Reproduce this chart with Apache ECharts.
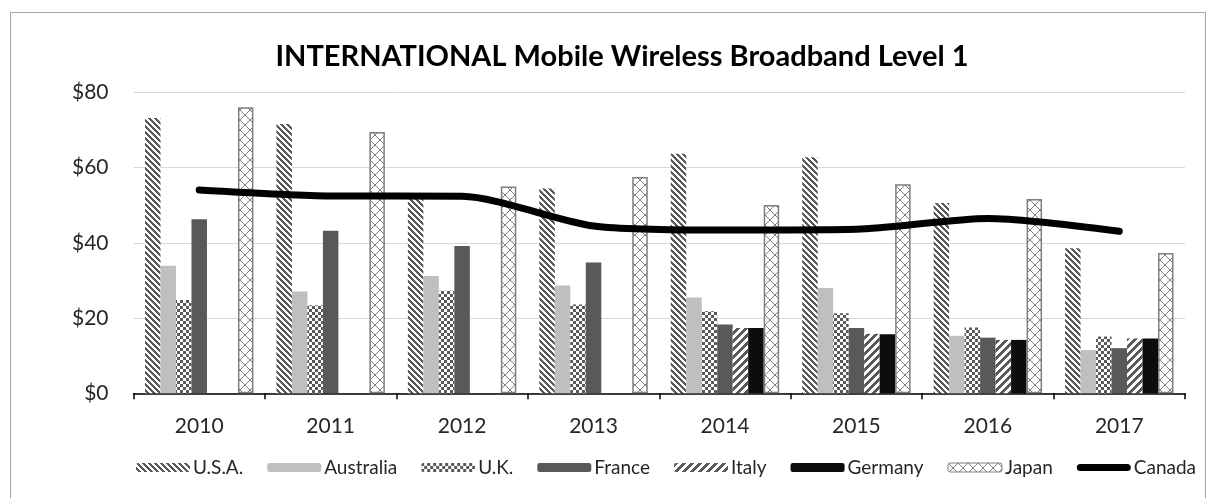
<!DOCTYPE html>
<html>
<head>
<meta charset="utf-8">
<script src="https://cdn.jsdelivr.net/npm/echarts@6/dist/echarts.min.js"></script>
<style>
  html, body { margin: 0; padding: 0; background: #ffffff; }
  #chart { width: 1210px; height: 498px; }
</style>
</head>
<body>
<div id="chart"></div>
<script>
// Monthly price (USD) of a Level 1 mobile wireless broadband plan, by country
const years = ['2010', '2011', '2012', '2013', '2014', '2015', '2016', '2017'];
const usa       = [73.2, 71.6, 52.0, 54.5, 63.7, 62.8, 50.6, 38.6];
const australia = [33.9, 27.1, 31.2, 28.7, 25.5, 28.0, 15.3, 11.5];
const uk        = [24.8, 23.4, 27.3, 23.6, 21.8, 21.3, 17.5, 15.1];
const france    = [46.3, 43.2, 39.2, 34.8, 18.3, 17.4, 14.8, 12.0];
const italy     = [null, null, null, null, 17.4, 15.8, 14.2, 14.6];
const germany   = [null, null, null, null, 17.4, 15.7, 14.2, 14.6];
const japan     = [76.1, 69.5, 55.0, 57.5, 50.1, 55.6, 51.7, 37.3];
const canada    = [54.1, 52.5, 52.4, 44.5, 43.4, 43.6, 46.5, 43.1];
const yTicks    = [0, 20, 40, 60, 80];

const FONT = 'Lato, "Open Sans", sans-serif';

// Build a repeating fill from a per-pixel rule
function pattern(size, fg, bg, isInk) {
  const c = document.createElement('canvas');
  c.width = size; c.height = size;
  const g = c.getContext('2d');
  g.fillStyle = bg; g.fillRect(0, 0, size, size);
  g.fillStyle = fg;
  for (let y = 0; y < size; y++) {
    for (let x = 0; x < size; x++) {
      if (isInk(x, y)) g.fillRect(x, y, 1, 1);
    }
  }
  return { image: c, repeat: 'repeat' };
}

const darkDownDiag = pattern(6, '#595959', '#ffffff', (x, y) => ((x - y + 12) % 6) < 3);
const wideUpDiag   = pattern(8, '#595959', '#ffffff', (x, y) => ((x + y) % 8) < 4);
const checker      = pattern(6, '#595959', '#ffffff', (x, y) => ((Math.floor(x / 3) + Math.floor(y / 3)) % 2) === 0);
const diagCross    = pattern(10, '#7f7f7f', '#ffffff', (x, y) => x === y || x === 9 - y);

function barSeries(name, data, fill, extra) {
  return Object.assign({
    name: name,
    type: 'bar',
    data: data,
    barGap: '0%',
    barCategoryGap: '17.5%',
    itemStyle: { color: fill },
    emphasis: { disabled: true }
  }, extra || {});
}

const chart = echarts.init(document.getElementById('chart'), null, { renderer: 'canvas' });

chart.setOption({
  backgroundColor: '#ffffff',
  animation: false,
  title: {
    text: 'INTERNATIONAL Mobile Wireless Broadband Level 1',
    left: 617,
    textAlign: 'center',
    top: 37,
    textStyle: { fontFamily: FONT, fontSize: 29, fontWeight: 'bold', color: '#000000' }
  },
  graphic: [{
    type: 'rect',
    silent: true,
    shape: { x: 10.5, y: 12.5, width: 1195, height: 500 },
    style: { fill: 'none', stroke: '#a6a6a6', lineWidth: 1 }
  }],
  legend: {
    bottom: 16,
    left: 131,
    itemWidth: 54,
    itemHeight: 9,
    itemGap: 24,
    textStyle: { fontFamily: FONT, fontSize: 19, color: '#262626', padding: [0, 0, 0, -2] },
    data: [
      'U.S.A.', 'Australia', 'U.K.', 'France', 'Italy', 'Germany',
      { name: 'Japan', itemStyle: { borderColor: '#7f7f7f', borderWidth: 1 } },
      { name: 'Canada', icon: 'path://M4,0 H56 A4,4 0 0 1 56,8 H4 A4,4 0 0 1 4,0 Z', itemStyle: { color: '#000000' } }
    ]
  },
  grid: { left: 133.5, right: 25, top: 92.5, bottom: 104.7, containLabel: false },
  xAxis: {
    type: 'category',
    data: years,
    axisLine: { lineStyle: { color: '#000000', width: 1.5 } },
    axisTick: { show: true, length: 6, lineStyle: { color: '#000000', width: 1.5 } },
    axisLabel: { fontFamily: FONT, fontSize: 21, color: '#262626', margin: 22 },
    splitLine: { show: false }
  },
  yAxis: {
    type: 'value',
    min: yTicks[0],
    max: yTicks[yTicks.length - 1],
    interval: yTicks[1] - yTicks[0],
    axisLine: { show: false },
    axisTick: { show: false },
    axisLabel: { fontFamily: FONT, fontSize: 21, color: '#262626', margin: 25, formatter: v => '$' + v },
    splitLine: { lineStyle: { color: '#d9d9d9', width: 1 } }
  },
  series: [
    barSeries('U.S.A.', usa, darkDownDiag),
    barSeries('Australia', australia, '#bfbfbf'),
    barSeries('U.K.', uk, checker),
    barSeries('France', france, '#595959'),
    barSeries('Italy', italy, wideUpDiag),
    barSeries('Germany', germany, '#0d0d0d'),
    barSeries('Japan', japan, diagCross, {
      itemStyle: { color: diagCross, borderColor: '#7f7f7f', borderWidth: 1.5 }
    }),
    {
      name: 'Canada',
      type: 'line',
      data: canada,
      smooth: 0.25,
      symbol: 'none',
      z: 5,
      lineStyle: { color: '#000000', width: 7, cap: 'round', join: 'round' },
      itemStyle: { color: '#000000' },
      emphasis: { disabled: true }
    }
  ]
});
</script>
</body>
</html>
